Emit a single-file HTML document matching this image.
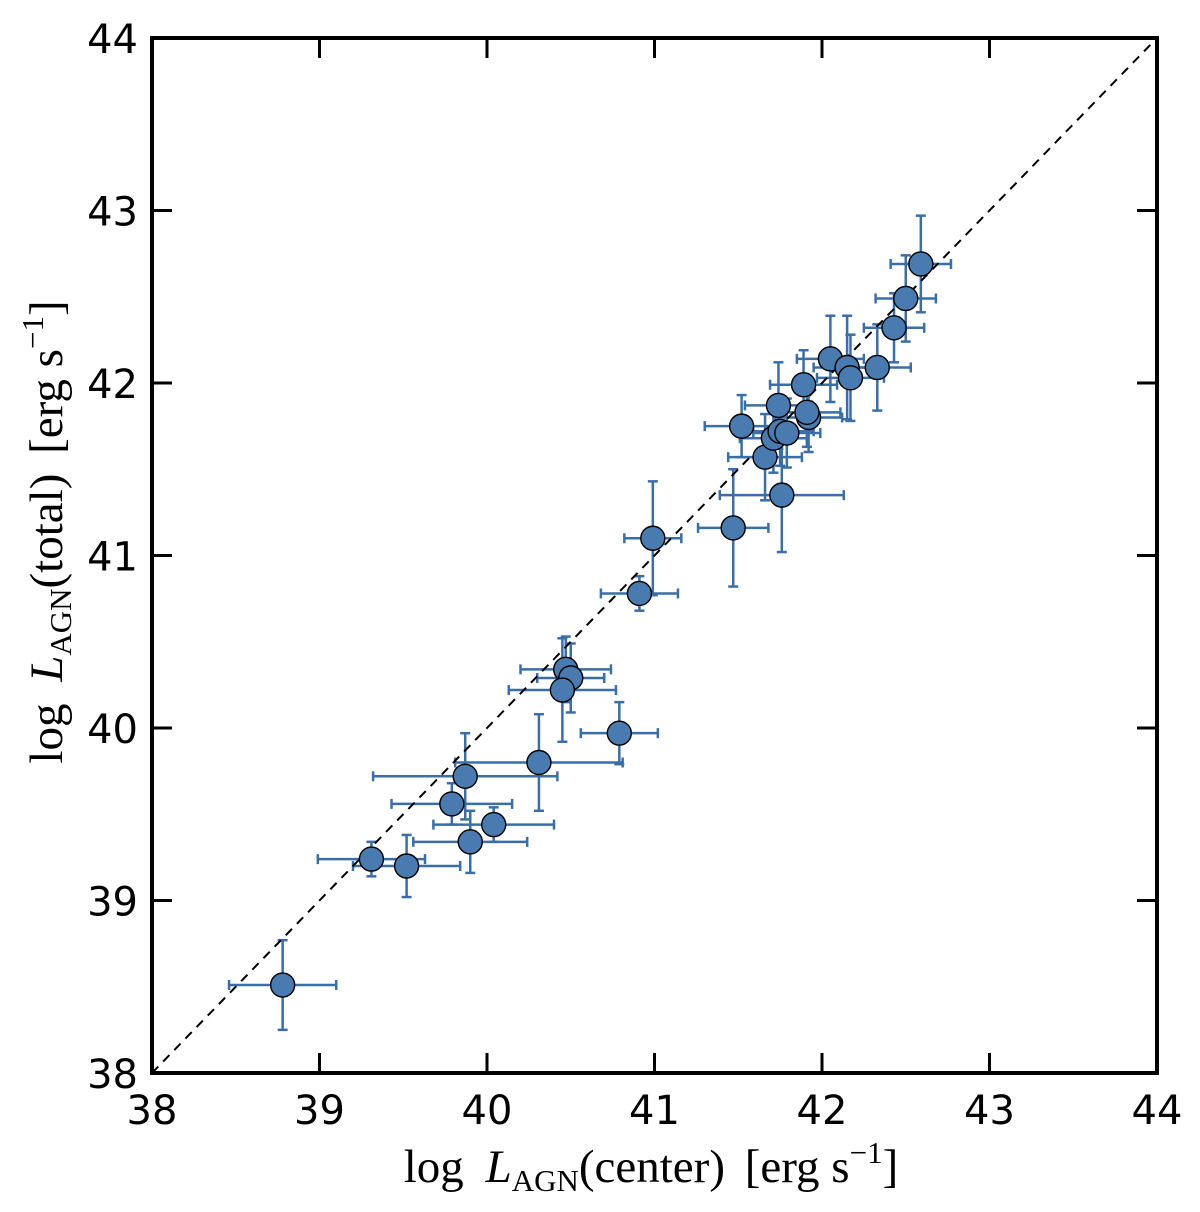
<!DOCTYPE html>
<html><head><meta charset="utf-8"><style>
html,body{margin:0;padding:0;background:#fff;}
svg{display:block;font-family:"DejaVu Sans","Liberation Sans",sans-serif;}
</style></head><body>
<svg id="chart" width="1200" height="1212">
<g id="errs"></g>
<line id="diag" stroke="#000" stroke-width="2" stroke-dasharray="9,7"/>
<g id="pts"></g>
<rect x="152" y="38" width="1005" height="1035" fill="none" stroke="#000" stroke-width="4"/>
<g id="ticks"></g>
<text x="651" y="1182" text-anchor="middle" font-family="Liberation Serif, serif" font-size="47">log  <tspan font-style="italic" dx="10">L</tspan><tspan font-size="31" dy="9">AGN</tspan><tspan dy="-9">(center) </tspan><tspan dx="8">[erg s</tspan><tspan font-size="31" dy="-19">−1</tspan><tspan dy="19">]</tspan></text>
<text transform="translate(62,532) rotate(-90)" text-anchor="middle" font-family="Liberation Serif, serif" font-size="47">log  <tspan font-style="italic" dx="10">L</tspan><tspan font-size="31" dy="9">AGN</tspan><tspan dy="-9">(total) </tspan><tspan dx="8">[erg s</tspan><tspan font-size="31" dy="-19">−1</tspan><tspan dy="19">]</tspan></text>
</svg>
<script>
const xVals=[38.78,39.31,39.52,39.79,39.87,39.90,40.04,40.31,40.47,40.50,40.45,40.79,40.91,40.99,41.47,41.52,41.66,41.71,41.75,41.79,41.74,41.76,41.89,41.92,41.91,42.05,42.15,42.17,42.33,42.43,42.50,42.59];
const yVals=[38.51,39.24,39.20,39.56,39.72,39.34,39.44,39.80,40.34,40.29,40.22,39.97,40.78,41.10,41.16,41.75,41.57,41.68,41.72,41.71,41.87,41.35,41.99,41.80,41.83,42.14,42.09,42.03,42.09,42.32,42.49,42.69];
const xErr=[0.32,0.32,0.32,0.36,0.55,0.34,0.36,0.5,0.27,0.2,0.32,0.23,0.23,0.17,0.21,0.22,0.22,0.2,0.2,0.2,0.2,0.37,0.2,0.2,0.2,0.2,0.2,0.2,0.2,0.18,0.18,0.18];
const yErr=[0.26,0.1,0.18,0.12,0.25,0.18,0.1,0.28,0.19,0.2,0.3,0.18,0.1,0.33,0.34,0.18,0.25,0.2,0.2,0.2,0.25,0.33,0.2,0.2,0.2,0.25,0.3,0.25,0.25,0.2,0.25,0.28];
const ticks=[38,39,40,41,42,43,44];
const NS="http://www.w3.org/2000/svg";
const X0=152,X1=1157,Y0=1073,Y1=38;
const sx=v=>X0+(v-38)/6*(X1-X0), sy=v=>Y0-(v-38)/6*(Y0-Y1);
function mk(t,a,p){const e=document.createElementNS(NS,t);for(const k in a)e.setAttribute(k,a[k]);p.appendChild(e);return e;}
const d=document.getElementById('diag');
d.setAttribute('x1',sx(38));d.setAttribute('y1',sy(38));d.setAttribute('x2',sx(44));d.setAttribute('y2',sy(44));
const eg=document.getElementById('errs'),pg=document.getElementById('pts'),tg=document.getElementById('ticks');
const col="#3a6ea8";
for(let i=0;i<xVals.length;i++){
  const cx=sx(xVals[i]),cy=sy(yVals[i]),xl=sx(xVals[i]-xErr[i]),xr=sx(xVals[i]+xErr[i]),yt=sy(yVals[i]+yErr[i]),yb=sy(yVals[i]-yErr[i]);
  const g=mk('g',{stroke:col,'stroke-width':2.5},eg);
  
  
  mk('line',{x1:xl,y1:cy,x2:xr,y2:cy},g);
  mk('line',{x1:cx,y1:yt,x2:cx,y2:yb},g);
  mk('line',{x1:xl,y1:cy-5,x2:xl,y2:cy+5},g);
  mk('line',{x1:xr,y1:cy-5,x2:xr,y2:cy+5},g);
  mk('line',{x1:cx-5,y1:yt,x2:cx+5,y2:yt},g);
  mk('line',{x1:cx-5,y1:yb,x2:cx+5,y2:yb},g);
  const c=mk('circle',{cx:cx,cy:cy,r:12,fill:'#4a7bb0',stroke:'#000','stroke-width':1.4},pg);
  
  
}
ticks.forEach(t=>{
  const x=sx(t),y=sy(t);
  mk('line',{x1:x,y1:Y0,x2:x,y2:Y0-20,stroke:'#000','stroke-width':3},tg);
  mk('line',{x1:x,y1:Y1,x2:x,y2:Y1+20,stroke:'#000','stroke-width':3},tg);
  mk('line',{x1:X0,y1:y,x2:X0+20,y2:y,stroke:'#000','stroke-width':3},tg);
  mk('line',{x1:X1,y1:y,x2:X1-20,y2:y,stroke:'#000','stroke-width':3},tg);
  const lx=mk('text',{x:x,y:1124,'text-anchor':'middle','font-size':40},tg);
  lx.textContent=t;
  
  
  const ly=mk('text',{x:138,y:y+15,'text-anchor':'end','font-size':40},tg);
  ly.textContent=t;
  
  
});
</script>
</body></html>
